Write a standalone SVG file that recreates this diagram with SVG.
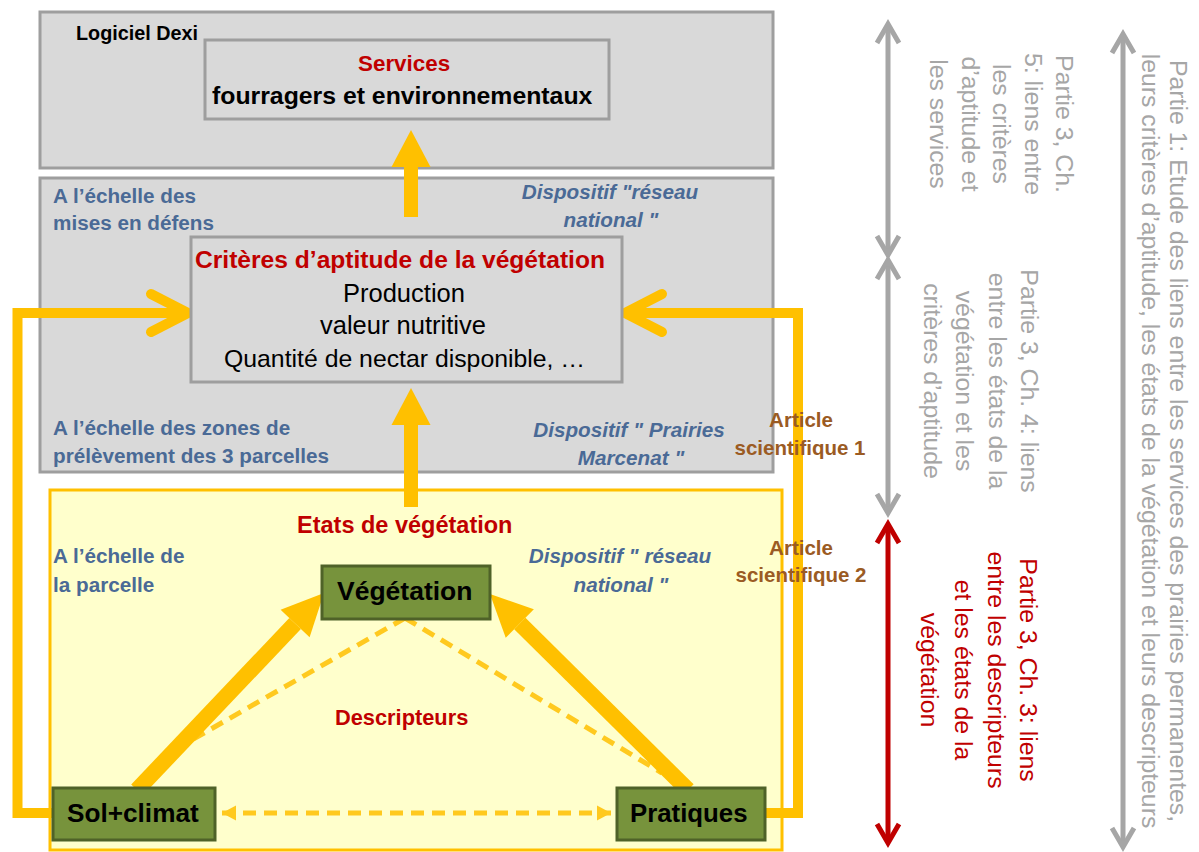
<svg xmlns="http://www.w3.org/2000/svg" width="1199" height="852" viewBox="0 0 1199 852">
<style>
text{font-family:"Liberation Sans",Arial,sans-serif}
.box{fill:#D9D9D9;stroke:#9E9E9E;stroke-width:3}
.ybox{fill:#FFFFCC;stroke:#FFC000;stroke-width:3}
.gnode{fill:#77933C;stroke:#4F6228;stroke-width:3}
.b{font-weight:bold}
.red{fill:#C00000}
.blk{fill:#000}
.blue{fill:#4A6A96;font-weight:bold;font-size:20.7px}
.bi{font-style:italic}
.brown{fill:#9B5B23;font-weight:bold;font-size:20.5px}
.vg{fill:#A6A6A6;font-size:24.8px}
.vr{fill:#C00000;font-size:24.8px}
.fb{fill:none;stroke:#FFC000;stroke-width:10}
.thick{stroke:#FFC000;stroke-width:16;fill:none}
.up{stroke:#FFC000;stroke-width:14;fill:none}
.dash{stroke:#FFC000;stroke-width:5;stroke-dasharray:13 8;fill:none;opacity:0.85}
.ga{stroke:#A6A6A6;stroke-width:5;fill:none}
.ra{stroke:#C00000;stroke-width:5;fill:none}
</style>
<defs>
<marker id="chevG" markerUnits="userSpaceOnUse" viewBox="-24 -14 28 28" refX="0" refY="0" markerWidth="28" markerHeight="28" orient="auto-start-reverse" overflow="visible">
<path d="M-19,-11 L0,0 L-19,11" fill="none" stroke="#A6A6A6" stroke-width="5"/>
</marker>
<marker id="chevR" markerUnits="userSpaceOnUse" viewBox="-24 -14 28 28" refX="0" refY="0" markerWidth="28" markerHeight="28" orient="auto-start-reverse" overflow="visible">
<path d="M-19,-11 L0,0 L-19,11" fill="none" stroke="#C00000" stroke-width="5"/>
</marker>
<marker id="chevY" markerUnits="userSpaceOnUse" viewBox="-44 -24 50 48" refX="0" refY="0" markerWidth="50" markerHeight="48" orient="auto" overflow="visible">
<path d="M-37,-19 L0,0 L-37,19" fill="none" stroke="#FFC000" stroke-width="10" stroke-linecap="round" stroke-linejoin="miter"/>
</marker>
<marker id="headThick" markerUnits="userSpaceOnUse" viewBox="-1 -21 44 42" refX="0" refY="0" markerWidth="44" markerHeight="42" orient="auto" overflow="visible">
<path d="M0,-20 L42,0 L0,20 z" fill="#FFC000"/>
</marker>
<marker id="headUp" markerUnits="userSpaceOnUse" viewBox="-1 -21 40 42" refX="0" refY="0" markerWidth="40" markerHeight="42" orient="auto" overflow="visible">
<path d="M0,-19.5 L37,0 L0,19.5 z" fill="#FFC000"/>
</marker>
<marker id="headSmall" markerUnits="userSpaceOnUse" viewBox="-16 -9 18 18" refX="0" refY="0" markerWidth="18" markerHeight="18" orient="auto-start-reverse" overflow="visible">
<path d="M-14,-7.5 L0,0 L-14,7.5 z" fill="#FFC000"/>
</marker>
</defs>

<g id="containers">
<rect id="box-dexi" class="box" x="40" y="12" width="733" height="156"/>
<rect id="box-defens" class="box" x="40" y="178" width="733" height="294"/>
<rect id="box-parcelle" class="ybox" x="50" y="490" width="732" height="360"/>
</g>

<g id="connectors">
<polyline class="fb" points="53,813 17.5,813 17.5,313 188,313" marker-end="url(#chevY)"/>
<polyline class="fb" points="766,813 798,813 798,313 625,313" marker-end="url(#chevY)"/>
<line class="up" x1="411" y1="217" x2="411" y2="167" marker-end="url(#headUp)"/>
<line class="up" x1="411" y1="507" x2="411" y2="425" marker-end="url(#headUp)"/>
<line class="dash" x1="405" y1="618" x2="183" y2="745"/>
<line class="dash" x1="405" y1="618" x2="662" y2="773"/>
<line class="dash" x1="222" y1="813" x2="611" y2="813" marker-start="url(#headSmall)" marker-end="url(#headSmall)"/>
<line class="thick" x1="137" y1="790" x2="295.1" y2="623.5" marker-end="url(#headThick)"/>
<line class="thick" x1="688" y1="790" x2="519.8" y2="623.5" marker-end="url(#headThick)"/>
<line class="ga" x1="888" y1="24" x2="888" y2="255" marker-start="url(#chevG)" marker-end="url(#chevG)"/>
<line class="ga" x1="888" y1="260" x2="888" y2="513" marker-start="url(#chevG)" marker-end="url(#chevG)"/>
<line class="ra" x1="888" y1="524" x2="888" y2="843" marker-start="url(#chevR)" marker-end="url(#chevR)"/>
<line class="ga" x1="1123" y1="34" x2="1123" y2="847" marker-start="url(#chevG)" marker-end="url(#chevG)"/>
</g>

<g id="node-services">
<rect class="box" x="205" y="40" width="404" height="79"/>
<text class="b red" x="358" y="71" font-size="22.4">Services</text>
<text class="b blk" x="212" y="104" font-size="24.8">fourragers et environnementaux</text>
</g>

<g id="node-criteres">
<rect class="box" x="191" y="237" width="431" height="145"/>
<text class="b red" x="195" y="268" font-size="24.6">Critères d’aptitude de la végétation</text>
<text class="blk" x="343" y="302" font-size="25.5">Production</text>
<text class="blk" x="320" y="334" font-size="25.5">valeur nutritive</text>
<text class="blk" x="224" y="367" font-size="24.8">Quantité de nectar disponible, …</text>
</g>

<g id="node-vegetation">
<rect class="gnode" x="322" y="566" width="168" height="53"/>
<text class="b blk" x="337" y="600" font-size="26.5">Végétation</text>
</g>
<g id="node-sol">
<rect class="gnode" x="53" y="788" width="162" height="52"/>
<text class="b blk" x="67" y="822" font-size="26.2">Sol+climat</text>
</g>
<g id="node-pratiques">
<rect class="gnode" x="617" y="788" width="148" height="52"/>
<text class="b blk" x="630" y="822" font-size="25.8">Pratiques</text>
</g>

<g id="labels">
<text class="b blk" x="76" y="40" font-size="19.8">Logiciel Dexi</text>
<text class="blue" x="53" y="203">A l’échelle des</text>
<text class="blue" x="53" y="230">mises en défens</text>
<text class="blue bi" x="610" y="199" text-anchor="middle">Dispositif "réseau</text>
<text class="blue bi" x="611" y="227" text-anchor="middle">national "</text>
<text class="blue" x="53" y="435">A l’échelle des zones de</text>
<text class="blue" x="53" y="463">prélèvement des 3 parcelles</text>
<text class="blue bi" x="629" y="437" text-anchor="middle">Dispositif " Prairies</text>
<text class="blue bi" x="631" y="465" text-anchor="middle">Marcenat "</text>
<text class="brown" x="801" y="427" text-anchor="middle">Article</text>
<text class="brown" x="800" y="455" text-anchor="middle">scientifique 1</text>
<text class="b red" x="297" y="533" font-size="23.5">Etats de végétation</text>
<text class="blue" x="53" y="563">A l’échelle de</text>
<text class="blue" x="53" y="592">la parcelle</text>
<text class="blue bi" x="620" y="563" text-anchor="middle">Dispositif " réseau</text>
<text class="blue bi" x="621" y="592" text-anchor="middle">national "</text>
<text class="brown" x="801" y="555" text-anchor="middle">Article</text>
<text class="brown" x="801" y="582" text-anchor="middle">scientifique 2</text>
<text class="b red" x="335" y="725" font-size="21.8">Descripteurs</text>
</g>

<g id="side-notes">
<g class="vg" text-anchor="middle">
<text transform="translate(1056,124) rotate(90)">Partie 3, Ch.</text>
<text transform="translate(1024.5,124) rotate(90)">5: liens entre</text>
<text transform="translate(993,124) rotate(90)">les critères</text>
<text transform="translate(961.5,124) rotate(90)">d’aptitude et</text>
<text transform="translate(930,124) rotate(90)">les services</text>
</g>
<g class="vg" text-anchor="middle">
<text transform="translate(1021,381) rotate(90)">Partie 3, Ch. 4: liens</text>
<text transform="translate(988.5,381) rotate(90)">entre les états de la</text>
<text transform="translate(956,381) rotate(90)">végétation et les</text>
<text transform="translate(923.5,381) rotate(90)">critères d’aptitude</text>
</g>
<g class="vr" text-anchor="middle">
<text transform="translate(1020,670) rotate(90)">Partie 3, Ch. 3: liens</text>
<text transform="translate(988,670) rotate(90)">entre les descripteurs</text>
<text transform="translate(955,670) rotate(90)">et les états de la</text>
<text transform="translate(921,670) rotate(90)">végétation</text>
</g>
<g class="vg" text-anchor="middle">
<text transform="translate(1170,441) rotate(90)">Partie 1: Etude des liens entre les services des prairies permanentes,</text>
<text transform="translate(1142,441) rotate(90)">leurs critères d’aptitude, les états de la végétation et leurs descripteurs</text>
</g>
</g>
</svg>
